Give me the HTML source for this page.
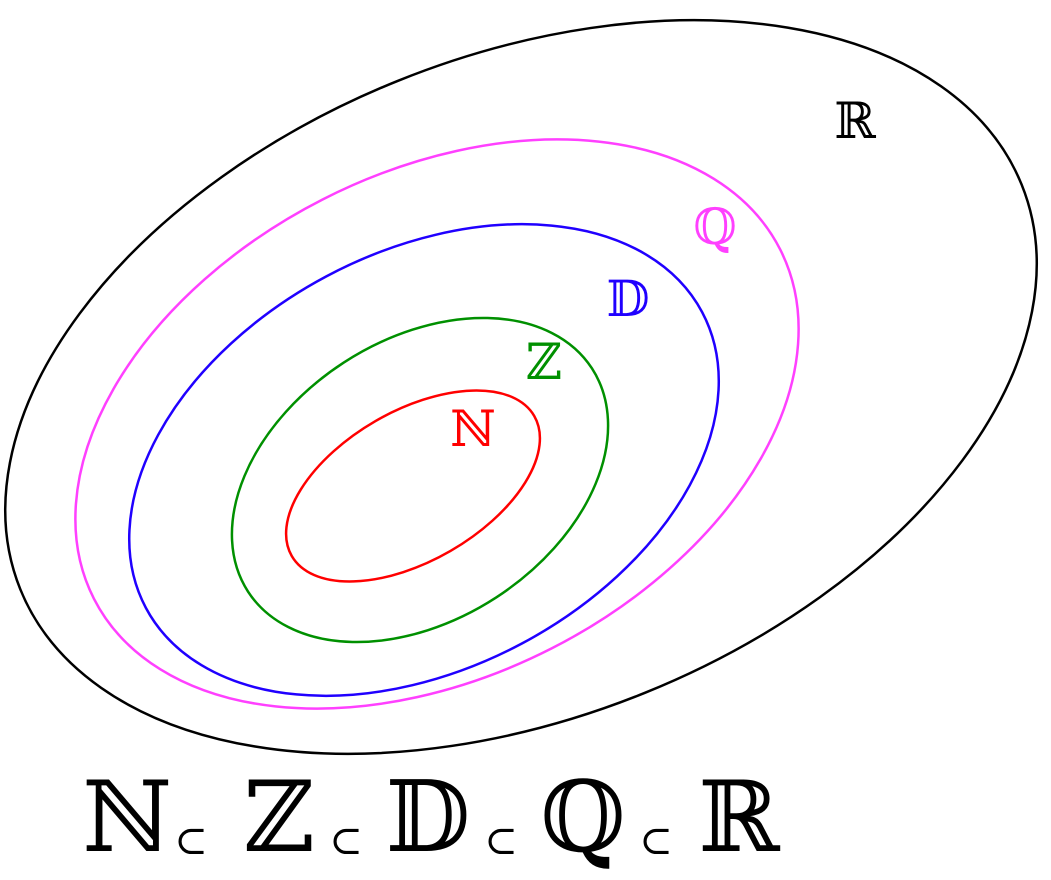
<!DOCTYPE html>
<html><head><meta charset="utf-8"><style>
html,body{margin:0;padding:0;background:#fff;width:1051px;height:880px;overflow:hidden}
svg text{font-family:"DejaVu Serif","DejaVu Sans","Liberation Serif",serif}
</style></head><body>
<svg width="1051" height="880" viewBox="0 0 1051 880" xmlns="http://www.w3.org/2000/svg">
<g fill="none" stroke-width="2.5">
<ellipse cx="521" cy="387" rx="540" ry="330" transform="rotate(-22 521 387)" stroke="#000"/>
<ellipse cx="437" cy="424" rx="385" ry="252" transform="rotate(-27 437 424)" stroke="#ff40ff"/>
<ellipse cx="424" cy="460" rx="315" ry="208" transform="rotate(-28 424 460)" stroke="#2000ff"/>
<ellipse cx="420" cy="480" rx="205" ry="140" transform="rotate(-33 420 480)" stroke="#009000"/>
<ellipse cx="413" cy="486" rx="140" ry="75" transform="rotate(-30 413 486)" stroke="#ff0000"/>
</g>
<g font-size="50">
<text x="473" y="446" fill="#ff0000" text-anchor="middle">ℕ</text>
<text x="544" y="379" fill="#009000" text-anchor="middle">ℤ</text>
<text x="628" y="316" fill="#2000ff" text-anchor="middle">𝔻</text>
<text x="715" y="244" fill="#ff40ff" text-anchor="middle">ℚ</text>
<text x="855" y="138" fill="#000" text-anchor="middle">ℝ</text>
</g>
<g font-size="98" fill="#000" text-anchor="middle">
<text x="127" y="851">ℕ</text>
<text x="279" y="851">ℤ</text>
<text x="428" y="851">𝔻</text>
<text x="583" y="851">ℚ</text>
<text x="739" y="851">ℝ</text>
</g>
<g font-size="40" fill="#000" text-anchor="middle">
<text x="191" y="854">⊂</text>
<text x="346" y="854">⊂</text>
<text x="501" y="854">⊂</text>
<text x="656" y="854">⊂</text>
</g>
</svg>
</body></html>
